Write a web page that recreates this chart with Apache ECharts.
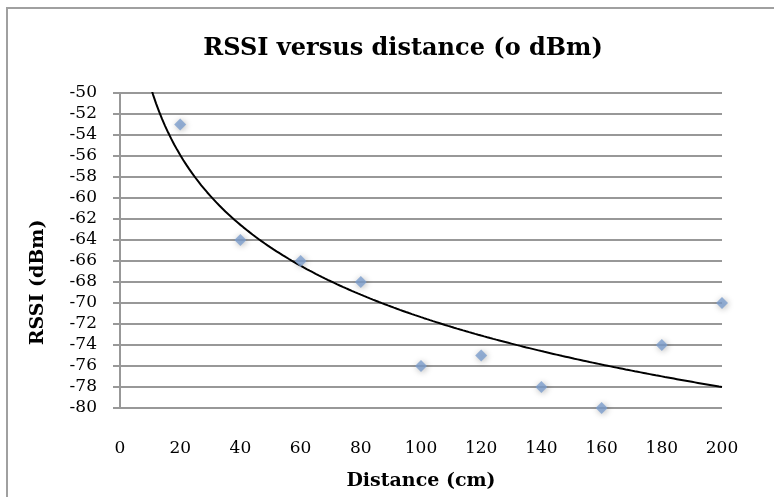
<!DOCTYPE html>
<html>
<head>
<meta charset="utf-8">
<script src="https://cdn.jsdelivr.net/npm/echarts@6/dist/echarts.min.js"></script>
<style>
  html, body { margin: 0; padding: 0; background: #fff; }
  #chart { width: 774px; height: 497px; }
</style>
</head>
<body>
<div id="chart"></div>
<script>
// Measured RSSI at each distance
var distances = [20, 40, 60, 80, 100, 120, 140, 160, 180, 200];
var rssiValues = [-53, -64, -66, -68, -76, -75, -78, -80, -74, -70];

var titleText = 'RSSI versus distance (o dBm)';
var xAxisName = 'Distance (cm)';
var yAxisName = 'RSSI (dBm)';

// Logarithmic trendline y = a*ln(x) + b, least-squares fit of the measurements
function logFit(xs, ys) {
  var n = xs.length, sx = 0, sy = 0, sxx = 0, sxy = 0;
  for (var i = 0; i < n; i++) {
    var lx = Math.log(xs[i]);
    sx += lx; sy += ys[i]; sxx += lx * lx; sxy += lx * ys[i];
  }
  var a = (n * sxy - sx * sy) / (n * sxx - sx * sx);
  var b = (sy - a * sx) / n;
  return { a: a, b: b };
}
var fit = logFit(distances, rssiValues);
var trend = [];
for (var x = 8; x <= 200; x += 1) {
  trend.push([x, fit.a * Math.log(x) + fit.b]);
}

var points = distances.map(function (d, i) { return [d, rssiValues[i]]; });

var serif = '"DejaVu Serif", "Liberation Serif", serif';
var gridGray = '#989898';

var chart = echarts.init(document.getElementById('chart'));
chart.setOption({
  animation: false,
  backgroundColor: '#fff',
  graphic: [{
    type: 'rect',
    shape: { x: 7, y: 8, width: 900, height: 600 },
    style: { fill: 'none', stroke: '#a0a0a0', lineWidth: 2 },
    silent: true
  }],
  title: {
    text: titleText,
    left: 398,
    textAlign: 'center',
    top: 32,
    textStyle: { fontFamily: serif, fontWeight: 'bold', fontSize: 24, color: '#000' }
  },
  grid: { left: 120, right: 52, top: 93, bottom: 89, outerBoundsMode: 'none' },
  xAxis: {
    type: 'value',
    min: 0, max: 200, interval: 20,
    name: xAxisName,
    nameLocation: 'middle',
    nameGap: 64,
    nameTextStyle: { fontFamily: serif, fontWeight: 'bold', fontSize: 19, color: '#000' },
    axisLine: { show: false },
    axisTick: { show: false },
    splitLine: { show: false },
    axisLabel: { margin: 32, fontFamily: serif, fontSize: 17, color: '#000' }
  },
  yAxis: {
    type: 'value',
    min: -80, max: -50, interval: 2,
    name: yAxisName,
    nameLocation: 'middle',
    nameRotate: 90,
    nameGap: 72,
    nameTextStyle: { fontFamily: serif, fontWeight: 'bold', fontSize: 19, color: '#000', padding: [0, 64, 0, 0] },
    axisLine: { show: true, onZero: false, lineStyle: { color: gridGray, width: 2 } },
    axisTick: { show: true, inside: false, length: 7, lineStyle: { color: gridGray, width: 2 } },
    splitLine: { show: true, lineStyle: { color: gridGray, width: 2 } },
    axisLabel: { margin: 23, fontFamily: serif, fontSize: 17, color: '#000' }
  },
  series: [
    {
      type: 'line',
      data: trend,
      showSymbol: false,
      symbol: 'none',
      smooth: false,
      clip: true,
      lineStyle: { color: '#000', width: 2 },
      z: 3
    },
    {
      type: 'scatter',
      data: points,
      symbol: 'diamond',
      symbolSize: [12, 12],
      itemStyle: {
        color: '#7C9ECD',
        shadowBlur: 6,
        shadowColor: 'rgba(0,0,0,0.35)',
        shadowOffsetX: 1,
        shadowOffsetY: 1
      },
      z: 4
    }
  ]
});
</script>
</body>
</html>
